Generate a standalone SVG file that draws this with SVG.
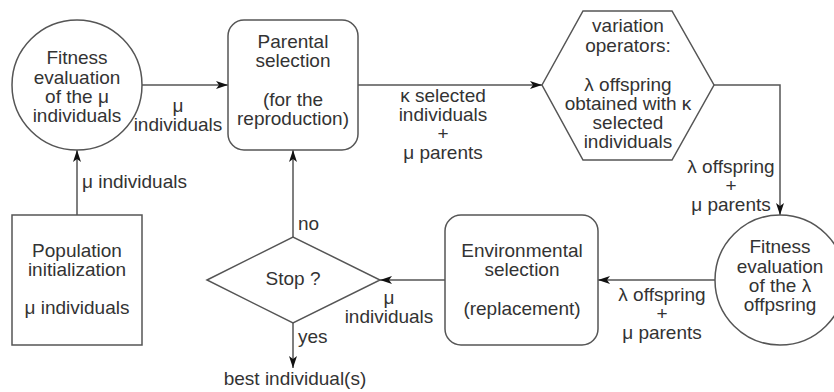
<svg xmlns="http://www.w3.org/2000/svg" width="834" height="392" viewBox="0 0 834 392">
<defs>
<marker id="arr" viewBox="0 0 12 8" refX="12" refY="4" markerWidth="12" markerHeight="8" markerUnits="userSpaceOnUse" orient="auto">
<path d="M0,0 L12,4 L0,8 L3,4 Z" fill="#111"/>
</marker>
</defs>
<style>
.s{fill:#fff;stroke:#555;stroke-width:1.5}
.t{font-family:"Liberation Sans",Arial,sans-serif;font-size:19px;fill:#333;text-anchor:middle}
.l{font-family:"Liberation Sans",Arial,sans-serif;font-size:19px;fill:#333}
.c{fill:none;stroke:#555;stroke-width:1.5}
</style>
<rect width="834" height="392" fill="#fff"/>
<g id="connectors">
<path class="c" d="M77,215 L77,150" marker-end="url(#arr)"/>
<path class="c" d="M142,85 L228,85" marker-end="url(#arr)"/>
<path class="c" d="M358,85 L542,85" marker-end="url(#arr)"/>
<path class="c" d="M714,85 L780,85 L780,215" marker-end="url(#arr)"/>
<path class="c" d="M715,280 L598,280" marker-end="url(#arr)"/>
<path class="c" d="M445,280 L380,280" marker-end="url(#arr)"/>
<path class="c" d="M293,237 L293,150" marker-end="url(#arr)"/>
<path class="c" d="M293,323 L293,368" marker-end="url(#arr)"/>
<text class="l" x="82" y="188">μ individuals</text>
<text class="t" x="178" y="112">μ</text>
<text class="t" x="178" y="131">individuals</text>
<text class="t" x="443" y="102">κ selected</text>
<text class="t" x="443" y="121">individuals</text>
<text class="t" x="443" y="140">+</text>
<text class="t" x="443" y="159">μ parents</text>
<text class="t" x="731" y="173">λ offspring</text>
<text class="t" x="731" y="192">+</text>
<text class="t" x="731" y="211">μ parents</text>
<text class="t" x="662" y="301">λ offspring</text>
<text class="t" x="662" y="320">+</text>
<text class="t" x="662" y="339">μ parents</text>
<text class="t" x="389" y="304">μ</text>
<text class="t" x="389" y="323">individuals</text>
<text class="l" x="298" y="230">no</text>
<text class="l" x="298" y="343">yes</text>
<text class="t" x="295" y="385">best individual(s)</text>
</g>
<g id="fitness1">
<circle class="s" cx="77" cy="85" r="65"/>
<text class="t" x="77" y="64">Fitness</text>
<text class="t" x="77" y="83.5">evaluation</text>
<text class="t" x="77" y="103">of the μ</text>
<text class="t" x="77" y="122">individuals</text>
</g>
<g id="parental">
<rect class="s" x="228" y="20" width="130" height="130" rx="16"/>
<text class="t" x="293" y="48">Parental</text>
<text class="t" x="293" y="67">selection</text>
<text class="t" x="293" y="106">(for the</text>
<text class="t" x="293" y="125">reproduction)</text>
</g>
<g id="variation">
<polygon class="s" points="542,85 583,11 672,11 714,85 672,160 583,160"/>
<text class="t" x="628" y="32">variation</text>
<text class="t" x="628" y="52">operators:</text>
<text class="t" x="628" y="91">λ offspring</text>
<text class="t" x="628" y="110">obtained with κ</text>
<text class="t" x="628" y="129">selected</text>
<text class="t" x="628" y="148">individuals</text>
</g>
<g id="fitness2">
<circle class="s" cx="780" cy="280" r="65"/>
<text class="t" x="780" y="253">Fitness</text>
<text class="t" x="780" y="273">evaluation</text>
<text class="t" x="780" y="292">of the λ</text>
<text class="t" x="780" y="311">offpsring</text>
</g>
<g id="environmental">
<rect class="s" x="445" y="215" width="153" height="130" rx="16"/>
<text class="t" x="522" y="257">Environmental</text>
<text class="t" x="522" y="276">selection</text>
<text class="t" x="522" y="315">(replacement)</text>
</g>
<g id="stop">
<polygon class="s" points="207,280 293,237 380,280 293,323"/>
<text class="t" x="293" y="285">Stop ?</text>
</g>
<g id="population">
<rect class="s" x="12" y="215" width="130" height="130"/>
<text class="t" x="77" y="257">Population</text>
<text class="t" x="77" y="276">initialization</text>
<text class="t" x="77" y="314">μ individuals</text>
</g>
</svg>
